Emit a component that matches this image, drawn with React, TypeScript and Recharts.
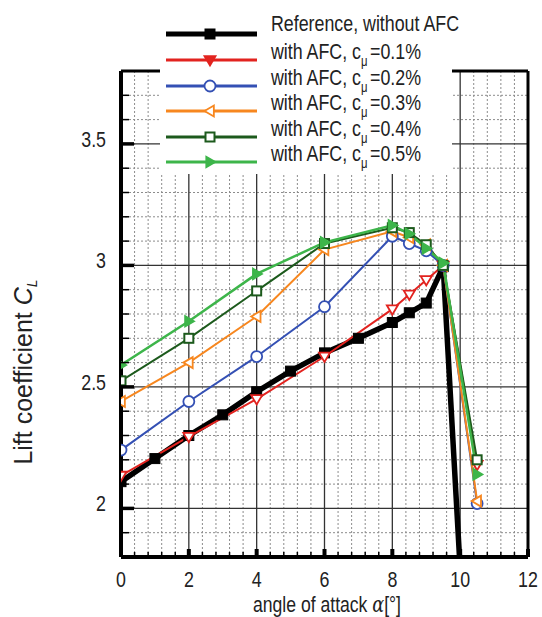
import React from 'react';
import { LineChart, Line, XAxis, YAxis, ReferenceLine, Legend } from 'recharts';

const FONT = '"Liberation Sans", Arial, Helvetica, sans-serif';
const TEXT_COLOR = '#222';

// Reference (without AFC)
const refAlpha = [0, 1, 2, 3, 4, 5, 6, 7, 8, 8.5, 9, 9.5, 10];
const refCL = [2.11, 2.205, 2.3, 2.385, 2.48, 2.565, 2.64, 2.7, 2.765, 2.805, 2.845, 2.995, 1.75];

// with AFC
const afcAlpha = [0, 2, 4, 6, 8, 8.5, 9, 9.5, 10.5];
const cl01 = [2.135, 2.295, 2.45, 2.625, 2.82, 2.88, 2.94, 3.0, 2.18];
const cl02 = [2.24, 2.44, 2.625, 2.83, 3.12, 3.09, 3.06, 3.0, 2.02];
const cl03 = [2.44, 2.6, 2.79, 3.065, 3.14, 3.115, 3.085, 3.0, 2.03];
const cl04 = [2.525, 2.7, 2.895, 3.09, 3.155, 3.135, 3.085, 3.0, 2.2];
const cl05 = [2.59, 2.77, 2.965, 3.095, 3.165, 3.13, 3.07, 3.01, 2.14];

const seriesNames = [
  'Reference, without AFC',
  'with AFC, c_μ=0.1%',
  'with AFC, c_μ=0.2%',
  'with AFC, c_μ=0.3%',
  'with AFC, c_μ=0.4%',
  'with AFC, c_μ=0.5%',
];
const cmuLabels = ['0.1%', '0.2%', '0.3%', '0.4%', '0.5%'];

const xMajorTicks = [0, 2, 4, 6, 8, 10, 12];
const yMajorTicks = [2, 2.5, 3, 3.5];
const xTicks = Array.from({ length: 31 }, (_, i) => (i * 4) / 10);
const yTicks = Array.from({ length: 21 }, (_, i) => (18 + i) / 10);

const toData = (xs: number[], ys: number[]) => xs.map((a, i) => ({ a, cl: ys[i] }));

type Shape = 'square' | 'triDown' | 'circle' | 'triLeft' | 'squareHollow' | 'triRight';

const series = [
  { name: seriesNames[0], data: toData(refAlpha, refCL), color: '#000000', width: 5.5, shape: 'square' as Shape, size: 10, fill: '#000000' },
  { name: seriesNames[1], data: toData(afcAlpha, cl01), color: '#e2231f', width: 2, shape: 'triDown' as Shape, size: 11, fill: '#ffffff' },
  { name: seriesNames[2], data: toData(afcAlpha, cl02), color: '#3450b4', width: 2, shape: 'circle' as Shape, size: 11, fill: '#ffffff' },
  { name: seriesNames[3], data: toData(afcAlpha, cl03), color: '#f7871f', width: 2, shape: 'triLeft' as Shape, size: 11, fill: '#ffffff' },
  { name: seriesNames[4], data: toData(afcAlpha, cl04), color: '#1c5a1c', width: 2, shape: 'squareHollow' as Shape, size: 9, fill: '#ffffff' },
  { name: seriesNames[5], data: toData(afcAlpha, cl05), color: '#3db54a', width: 2.5, shape: 'triRight' as Shape, size: 11, fill: '#3db54a' },
];

function Marker({ shape, cx, cy, s, color, fill }: { shape: Shape; cx: number; cy: number; s: number; color: string; fill: string }) {
  const h = s / 2;
  switch (shape) {
    case 'square':
      return <rect x={cx - h} y={cy - h} width={s} height={s} fill={fill} stroke={color} strokeWidth={1} />;
    case 'squareHollow':
      return <rect x={cx - h} y={cy - h} width={s} height={s} fill={fill} stroke={color} strokeWidth={2} />;
    case 'circle':
      return <circle cx={cx} cy={cy} r={h} fill={fill} stroke={color} strokeWidth={1.8} />;
    case 'triDown':
      return <polygon points={`${cx - h},${cy - h * 0.7} ${cx + h},${cy - h * 0.7} ${cx},${cy + h}`} fill={fill} stroke={color} strokeWidth={1.8} />;
    case 'triLeft':
      return <polygon points={`${cx - h},${cy} ${cx + h * 0.7},${cy - h} ${cx + h * 0.7},${cy + h}`} fill={fill} stroke={color} strokeWidth={1.8} />;
    case 'triRight':
      return <polygon points={`${cx + h},${cy} ${cx - h * 0.7},${cy - h} ${cx - h * 0.7},${cy + h}`} fill={fill} stroke={color} strokeWidth={1.5} />;
  }
  return null;
}

const makeDot = (shape: Shape, color: string, fill: string, s: number) => (props: any) => {
  const { cx, cy, index } = props;
  if (cx == null || cy == null) return <g key={`d-${index}`} />;
  return (
    <g key={`d-${index}`}>
      <Marker shape={shape} cx={cx} cy={cy} s={s} color={color} fill={fill} />
    </g>
  );
};

// condensed text: Liberation Sans squeezed horizontally
const CText = ({ x, y, sx = 0.81, size = 22, anchor = 'start', rotate = 0, children }: any) => (
  <g transform={`translate(${x},${y}) rotate(${rotate}) scale(${sx},1)`}>
    <text x={0} y={0} textAnchor={anchor} fontSize={size} fontFamily={FONT} fill={TEXT_COLOR}>
      {children}
    </text>
  </g>
);

const XTick = (props: any) => {
  const { x, y, payload } = props;
  const v = payload.value;
  const major = xMajorTicks.includes(v);
  return (
    <g>
      <line x1={x} x2={x} y1={y} y2={y - (major ? 8 : 5)} stroke="#000" strokeWidth={major ? 4 : 1.5} />
      {major && (
        <CText x={x} y={y + 30} anchor="middle">
          {v}
        </CText>
      )}
    </g>
  );
};

const YTick = (props: any) => {
  const { x, y, payload } = props;
  const v = payload.value;
  const major = yMajorTicks.includes(v);
  if (v <= 1.8 || v >= 3.8) return <g />;
  return (
    <g>
      <line x1={x} x2={x + (major ? 13 : 8)} y1={y} y2={y} stroke="#000" strokeWidth={major ? 3.5 : 1.5} />
      {major && (
        <CText x={x - 15} y={y + 3} anchor="end">
          {v}
        </CText>
      )}
    </g>
  );
};

const YTitle = () => (
  <CText x={32} y={372} rotate={-90} sx={1} size={25} anchor="middle">
    Lift coefficient <tspan fontStyle="italic">C</tspan>
    <tspan fontStyle="italic" fontSize={14} dy={5}>L</tspan>
  </CText>
);

const XTitle = () => (
  <CText x={327} y={612} sx={0.8} size={22} anchor="middle">
    angle of attack <tspan fontStyle="italic" fontFamily="DejaVu Serif, serif">α</tspan>[°]
  </CText>
);

const LegendBox = () => {
  const rows = [34, 60, 86, 111, 137, 162];
  return (
    <svg width={292} height={174} style={{ display: 'block', overflow: 'visible' }}>
      {series.map((s, i) => (
        <g key={s.name}>
          <line x1={6} x2={97} y1={rows[i]} y2={rows[i]} stroke={s.color} strokeWidth={i === 0 ? 5 : 3} />
          <Marker shape={s.shape} cx={50} cy={rows[i]} s={s.size} color={s.color} fill={i === 1 ? s.color : s.fill} />
          {i === 0 ? (
            <CText x={111} y={rows[i] - 3}>
              {s.name}
            </CText>
          ) : (
            <CText x={111} y={rows[i] - 1}>
              with AFC, c
              <tspan fontSize={14} dy={7}>μ</tspan>
              <tspan dy={-7} dx={3}>{'=' + cmuLabels[i - 1]}</tspan>
            </CText>
          )}
        </g>
      ))}
    </svg>
  );
};

export default function App() {
  return (
    <div style={{ position: 'absolute', left: 0, top: 0, width: 542, height: 617, background: '#fff' }}>
      <LineChart width={542} height={617} margin={{ top: 71, right: 14, bottom: 0, left: 0 }}>
        <XAxis
          type="number"
          dataKey="a"
          domain={[0, 12]}
          ticks={xTicks}
          interval={0}
          tick={<XTick />}
          tickLine={false}
          tickSize={0}
          tickMargin={0}
          height={60}
          axisLine={{ stroke: '#000', strokeWidth: 4 }}
          allowDataOverflow
          label={<XTitle />}
        />
        <YAxis
          type="number"
          dataKey="cl"
          domain={[1.8, 3.8]}
          ticks={yTicks}
          interval={0}
          tick={<YTick />}
          tickLine={false}
          tickSize={0}
          tickMargin={0}
          width={121}
          axisLine={{ stroke: '#000', strokeWidth: 4 }}
          allowDataOverflow
          label={<YTitle />}
        />
        {yTicks
          .filter((v) => v > 1.8 && v < 3.8 && !yMajorTicks.includes(v))
          .map((v) => (
            <ReferenceLine key={`ym-${v}`} y={v} stroke="#8c8c8c" strokeWidth={1} strokeDasharray="2 2" />
          ))}
        {xTicks
          .filter((v) => v > 0 && v < 12 && !xMajorTicks.includes(v))
          .map((v) => (
            <ReferenceLine key={`xm-${v}`} x={v} stroke="#8c8c8c" strokeWidth={1} strokeDasharray="2 2" />
          ))}
        {yMajorTicks.map((v) => (
          <ReferenceLine key={`yM-${v}`} y={v} stroke="#333" strokeWidth={1.3} />
        ))}
        {xMajorTicks
          .filter((v) => v > 0 && v < 12)
          .map((v) => (
            <ReferenceLine key={`xM-${v}`} x={v} stroke="#333" strokeWidth={1.3} />
          ))}
        <ReferenceLine y={3.8} stroke="#000" strokeWidth={3} />
        <ReferenceLine x={12} stroke="#000" strokeWidth={3} />
        {series.map((s) => (
          <Line
            key={s.name}
            data={s.data}
            dataKey="cl"
            name={s.name}
            type="linear"
            stroke={s.color}
            strokeWidth={s.width}
            dot={makeDot(s.shape, s.color, s.fill, s.size)}
            activeDot={false}
            isAnimationActive={false}
          />
        ))}
        <Legend
          layout="vertical"
          verticalAlign="middle"
          align="center"
          wrapperStyle={{ left: 160, top: 0, width: 292, height: 174, background: '#fff', overflow: 'visible' }}
          content={() => <LegendBox />}
        />
      </LineChart>
    </div>
  );
}
